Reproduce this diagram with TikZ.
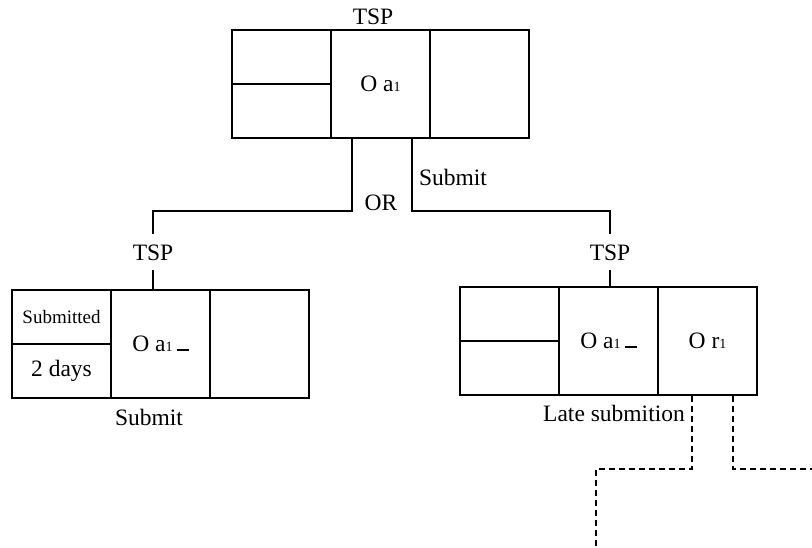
\documentclass[tikz,border=0pt]{standalone}
\usepackage{fontspec}
\setmainfont{Liberation Serif}
% small index digit that sits on the baseline
\newcommand\idx[1]{{\fontsize{14}{14}\selectfont #1}}
% short blank mark after an entry
\newcommand\slotmark{\hspace{4pt}\rule[0.5pt]{12pt}{2.5pt}}
\begin{document}
\begin{tikzpicture}[x=1pt,y=-1pt,
  every node/.style={font=\fontsize{23.5}{28}\selectfont},
  cell/.style={draw, line width=2pt, minimum width=99pt, minimum height=108pt,
               inner sep=0pt, anchor=north west},
  halfcell/.style={cell, minimum height=54pt},
  link/.style={line width=2pt},
  dashlink/.style={line width=2pt, dash pattern=on 6pt off 4pt},
  tsp/.style={inner xsep=2pt, inner ysep=10pt, anchor=base},
  lbl/.style={inner sep=0pt, anchor=base}]
\useasboundingbox (0,0) rectangle (812,547);

% top TSP record
\node[halfcell] (tl1) at (231,29) {};
\node[halfcell] (tl2) at (231,83) {};
\node[cell] (tm) at (330,29) {O a\idx{1}};
\node[cell] (tr) at (429,29) {};
\node[lbl] (tspT) at (373,24) {TSP};

% left TSP record
\node[halfcell, font=\fontsize{19}{22}\selectfont] (ll1) at (11,289) {Submitted};
\node[halfcell] (ll2) at (11,343) {2 days};
\node[cell] (lm) at (110,289) {O a\idx{1}\slotmark};
\node[cell] (lr) at (209,289) {};
\node[tsp] (tspL) at (153,260) {TSP};
\node[lbl] (subL) at (149,425) {Submit};

% right TSP record
\node[halfcell] (rl1) at (459,286) {};
\node[halfcell] (rl2) at (459,340) {};
\node[cell] (rm) at (558,286) {O a\idx{1}\slotmark};
\node[cell] (rr) at (657,286) {O r\idx{1}};
\node[tsp] (tspR) at (610,260) {TSP};
\node[lbl] (late) at (614,421) {Late submition};

% branch labels
\node[lbl] (orl) at (381,210) {OR};
\node[lbl] (subT) at (453,185) {Submit};

% branching connectors
\coordinate (jl) at (352,211);
\coordinate (jr) at (412,211);
\draw[link] (jl |- tm.south) -- (jl) -| (tspL.north);
\draw[link] (jr |- tm.south) -- (jr) -| (tspR.north);
\draw[link] (tspL.south) -- (tspL.south |- lm.north);
\draw[link] (tspR.south) -- (tspR.south |- rm.north);

% dashed continuations
\coordinate (d1) at (692,469);
\coordinate (e1) at (596,547);
\coordinate (d2) at (733,469);
\coordinate (e2) at (812,469);
\draw[dashlink] (d1 |- rr.south) -- (d1) -| (e1);
\draw[dashlink] (d2 |- rr.south) -- (d2) -- (e2);
\end{tikzpicture}
\end{document}
